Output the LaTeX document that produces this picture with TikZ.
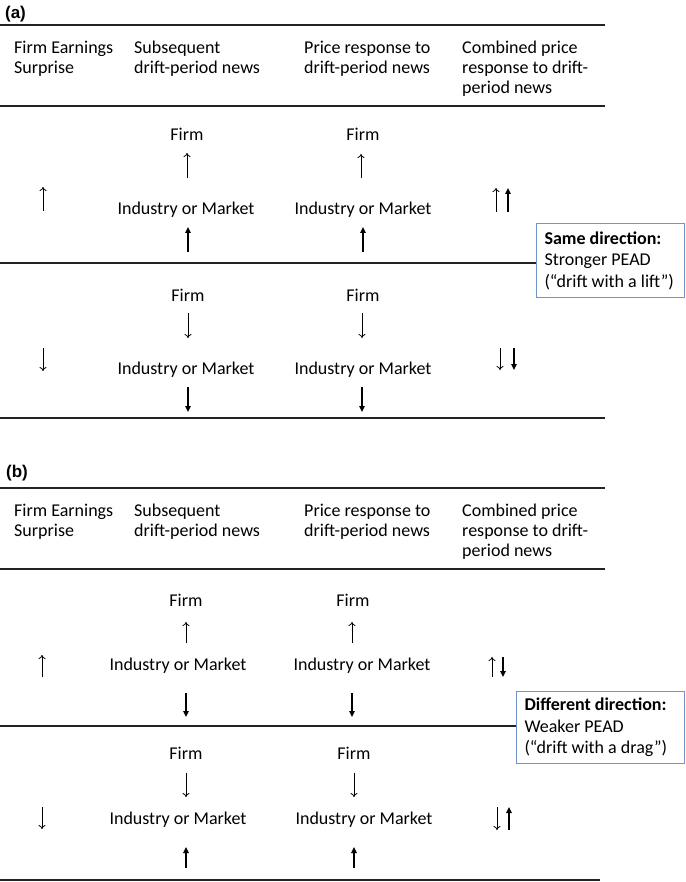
\documentclass[tikz,border=0pt]{standalone}
\usepackage{fontspec}
\setmainfont{Carlito}
\newfontfamily\panelfont{Liberation Sans}
\usepackage{tikz}
\usetikzlibrary{calc,positioning,arrows.meta}
\definecolor{boxblue}{RGB}{110,150,205}
\definecolor{rulec}{RGB}{35,35,35}
\tikzset{%
  rule/.style = { draw=rulec, line width=1.3pt },
  panel/.style = { inner sep=0pt, font=\panelfont\bfseries\fontsize{17}{20}\selectfont },
  head/.style = { anchor=base west, inner sep=0pt, text width=150pt, align=flush left, font=\fontsize{18}{20}\selectfont },
  news/.style = { inner sep=0pt, font=\fontsize{18}{20}\selectfont },
  thinarr/.style = { draw=black, line width=0.8pt, -{To[length=4pt,width=7pt]} },
  boldarr/.style = { draw=black, line width=1.7pt, -{Triangle[length=6pt,width=5.5pt]} },
  infobox/.style = { draw=boxblue, line width=1pt, fill=white, anchor=north west, align=flush left,
                     inner xsep=8pt, inner ysep=0pt, font=\fontsize{18}{21.5}\selectfont }
}

\begin{document}
\begin{tikzpicture}[x=1pt, y=-1pt]

  \useasboundingbox (0,0) rectangle (685,882);

  % Panel labels
  \node[panel] (labA) at (15.5,14.5) {(a)};
  \node[panel] (labB) at (17,473) {(b)};

  % Headers and rules of both panels
  \foreach \p/\dy in {A/0,B/463} {
    \draw[rule] (0,25+\dy) -- (605,25+\dy);
    \node[head] (h1\p) at (14,53.5+\dy)  {Firm Earnings\\Surprise};
    \node[head] (h2\p) at (134,53.5+\dy) {Subsequent\\drift-period news};
    \node[head] (h3\p) at (304,53.5+\dy) {Price response to\\drift-period news};
    \node[head] (h4\p) at (462,53.5+\dy) {Combined price\\response to drift-\\period news};
    \draw[rule] (0,106+\dy) -- (605,106+\dy);
  }

  % PANEL A, ROW 1
  \node[news] (firmA1) at (187,134) {Firm};
  \node[news] (indA1)  at (186,210) {Industry or Market};
  \node[news] (firmA2) at (363,134) {Firm};
  \node[news] (indA2)  at (363,210) {Industry or Market};

  % PANEL A, ROW 2
  \node[news] (firmA3) at (188,295) {Firm};
  \node[news] (indA3)  at (186,370) {Industry or Market};
  \node[news] (firmA4) at (363,295) {Firm};
  \node[news] (indA4)  at (363,370) {Industry or Market};

  % PANEL B, ROW 1
  \node[news] (firmB1) at (186,600) {Firm};
  \node[news] (indB1)  at (178,666) {Industry or Market};
  \node[news] (firmB2) at (353,600) {Firm};
  \node[news] (indB2)  at (362,666) {Industry or Market};

  % PANEL B, ROW 2
  \node[news] (firmB3) at (186,753) {Firm};
  \node[news] (indB3)  at (178,820) {Industry or Market};
  \node[news] (firmB4) at (354,753) {Firm};
  \node[news] (indB4)  at (364,820) {Industry or Market};

  % Arrows: name/x/from/to/style
  \foreach \nm/\x/\ya/\yb/\st in {
      aS1/43/211/187/thinarr,   aS2/43/348/371/thinarr,
      aF1/187/178/153/thinarr,  aM1/188/252/227/boldarr,
      aF2/361/178/154/thinarr,  aM2/363/252/227/boldarr,
      aF3/188/313/338/thinarr,  aM3/188/387/412/boldarr,
      aF4/362/313/338/thinarr,  aM4/362/387/412/boldarr,
      aC1/496/212/188/thinarr,  aC2/508/212/188/boldarr,
      aC3/500/348/370/thinarr,  aC4/514/348/370/boldarr,
      bS1/42/677/655/thinarr,   bS2/42/807/829/thinarr,
      bF1/186/643/622/thinarr,  bM1/186/693/717/boldarr,
      bF2/352/643/622/thinarr,  bM2/352/693/717/boldarr,
      bF3/186/773/797/thinarr,  bM3/186/868/847/boldarr,
      bF4/354/773/797/thinarr,  bM4/354/868/847/boldarr,
      bC1/492/677/657/thinarr,  bC2/503/657/677/boldarr,
      bC3/497/807/830/thinarr,  bC4/509/830/807/boldarr} {
    \coordinate (\nm-s) at (\x,\ya);
    \coordinate (\nm-e) at (\x,\yb);
    \draw[\st] (\nm-s) -- (\nm-e);
  }

  % Boxes and middle rules
  \node[infobox, text width=132pt, minimum height=74pt] (boxA) at (536,223)
    {\textbf{Same direction:}\\Stronger PEAD\\(“drift with a lift”)};
  \coordinate (midA) at (0,263);
  \draw[rule] (midA) -- (midA -| boxA.west);

  \node[infobox, text width=152pt, minimum height=72pt] (boxB) at (516,691)
    {\textbf{Different direction:}\\Weaker PEAD\\(“drift with a drag”)};
  \coordinate (midB) at (0,726);
  \draw[rule] (midB) -- (midB -| boxB.west);

  % Bottom rules
  \draw[rule] (0,418) -- (605,418);
  \draw[rule] (0,880) -- (600,880);

\end{tikzpicture}
\end{document}
